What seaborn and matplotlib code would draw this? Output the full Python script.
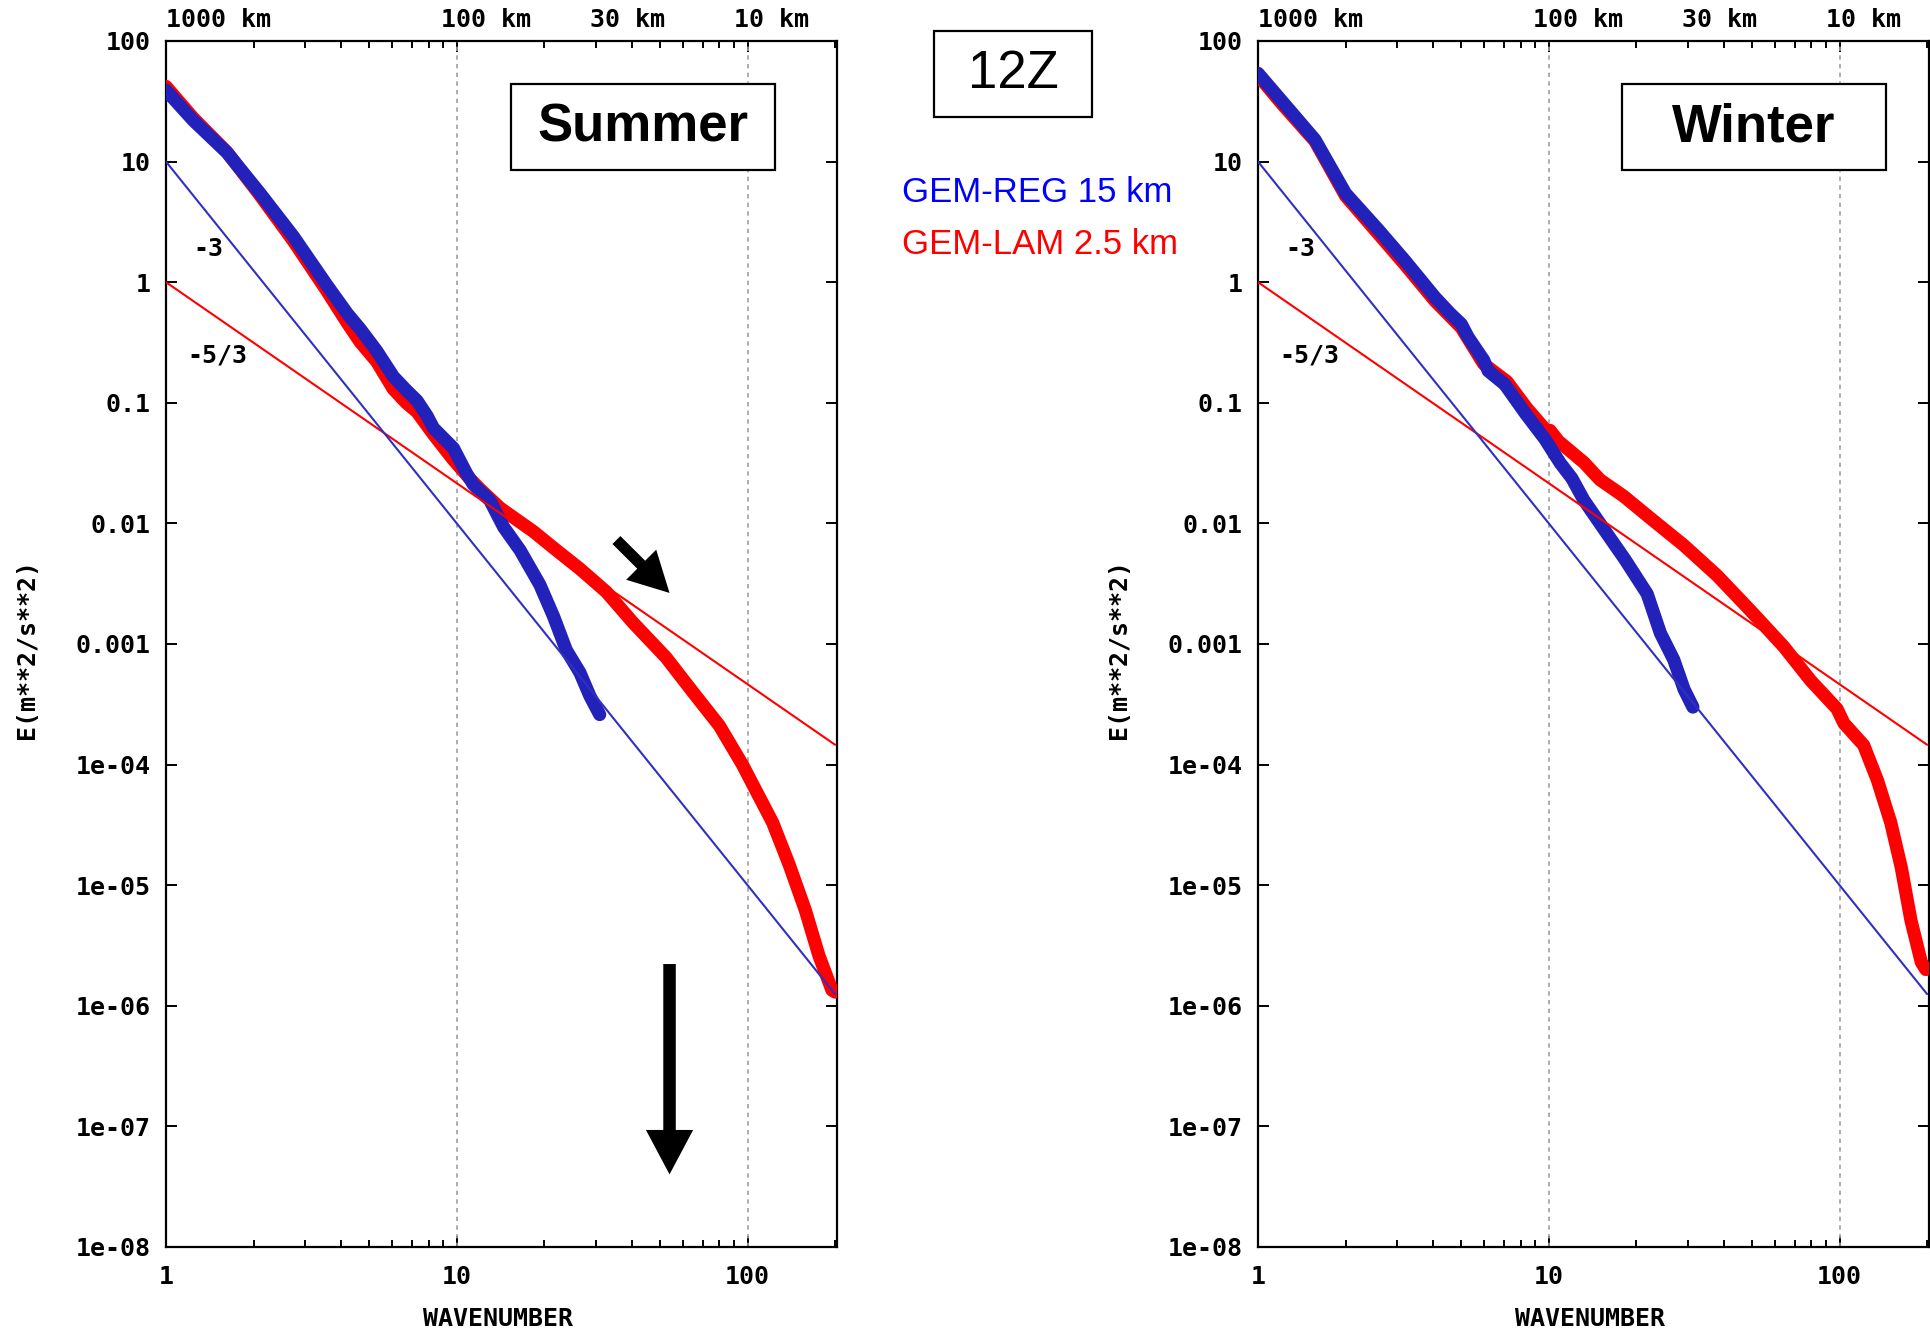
import matplotlib
matplotlib.use("Agg")
import numpy as np
import pandas as pd
import matplotlib.pyplot as plt
import matplotlib.transforms as mtransforms
from matplotlib.patches import Rectangle
from matplotlib.ticker import FixedLocator, FixedFormatter, NullFormatter
import seaborn as sns

# ---------------------------------------------------------------- data
# Kinetic energy spectra E(k) [m**2/s**2] versus wavenumber k
summer_reg_k = [1, 1.24, 1.62, 2.1, 2.74, 3.57, 4.2, 4.65, 5.3, 6.05, 6.73, 7.3,
                7.9, 8.3, 9.74, 10.8, 11.4, 13.0, 14.5, 16.5, 19.3, 21.5, 23.8,
                26.5, 28.7, 31.0]
summer_reg_e = [39, 22, 11.9, 5.5, 2.4, 0.95, 0.55, 0.41, 0.27, 0.165, 0.126, 0.104,
                0.078, 0.062, 0.042, 0.026, 0.021, 0.0155, 0.0093, 0.006, 0.0031,
                0.0017, 0.00089, 0.00058, 0.00037, 0.00026]

summer_lam_k = [1, 1.24, 1.62, 2.1, 2.74, 3.57, 4.2, 4.65, 5.3, 6.05, 6.7, 7.3, 8.3,
                9.7, 11.0, 12.0, 14.1, 18.3, 22, 26.5, 32.7, 40.4, 52.5, 64.8, 80,
                96, 104, 122, 139, 158, 176, 195, 200]
summer_lam_e = [42, 23, 12, 5.3, 2.2, 0.85, 0.46, 0.32, 0.22, 0.13, 0.100, 0.084,
                0.055, 0.034, 0.024, 0.0193, 0.0134, 0.0086, 0.006, 0.0042, 0.0027,
                0.0015, 0.00077, 0.0004, 0.00021, 1.0e-4, 6.9e-5, 3.3e-5, 1.48e-5,
                6.2e-6, 2.6e-6, 1.35e-6, 1.3e-6]

winter_reg_k = [1, 1.21, 1.57, 2.0, 2.6, 3.2, 4.06, 4.58, 5.0, 5.28, 5.97, 6.19,
                7.06, 8.3, 9.7, 10.5, 10.96, 12.0, 13.2, 15.6, 18.3, 21.8, 24.2,
                26.9, 29.2, 31.3]
winter_reg_e = [54, 31.6, 15.2, 5.45, 2.7, 1.51, 0.75, 0.55, 0.45, 0.35, 0.226,
                0.184, 0.142, 0.082, 0.05, 0.037, 0.0315, 0.0237, 0.0156, 0.0087,
                0.005, 0.0026, 0.00123, 0.00074, 0.00042, 0.0003]

winter_lam_k = [1, 1.21, 1.57, 2.0, 2.6, 3.2, 4.06, 5.0, 5.97, 7.18, 8.41, 9.85,
                10.1, 10.8, 13.2, 15.0, 18.1, 22.4, 29.1, 37.9, 49.3, 64.3, 79.4,
                98, 103.5, 121, 135, 150, 163, 176, 191, 198]
winter_lam_e = [52, 30, 14.8, 5.2, 2.5, 1.4, 0.70, 0.42, 0.21, 0.15, 0.09, 0.058,
                0.059, 0.048, 0.032, 0.023, 0.0168, 0.011, 0.0066, 0.0037, 0.0019,
                0.00095, 0.0005, 0.00029, 0.00022, 0.000145, 7.4e-5, 3.3e-5, 1.4e-5,
                5.1e-6, 2.3e-6, 2.0e-6]

# reference power laws k^-3 and k^-5/3 (end points)
slope_k = [1, 200]
slope_m3_e = [10, 1.25e-6]
slope_m53_e = [1, 1.46e-4]

models = ["GEM-LAM 2.5 km", "GEM-REG 15 km"]
seasons = ["Summer", "Winter"]

x_ticks = [1, 10, 100]
x_tick_labels = ["1", "10", "100"]
y_ticks = [1e-8, 1e-7, 1e-6, 1e-5, 1e-4, 1e-3, 1e-2, 1e-1, 1, 10, 100]
y_tick_labels = ["1e-08", "1e-07", "1e-06", "1e-05", "1e-04", "0.001", "0.01",
                 "0.1", "1", "10", "100"]
scale_labels = ["1000 km", "100 km", "30 km", "10 km"]
scale_label_k = [1.0, 8.8, 28.7, 89.8]

# ---------------------------------------------------------------- style
sns.set_style("ticks")
plt.rcParams["font.family"] = ["DejaVu Sans Mono", "DejaVu Sans"]
plt.rcParams["font.weight"] = "bold"
for key in ("text.color", "axes.labelcolor", "xtick.color", "ytick.color",
            "axes.edgecolor"):
    plt.rcParams[key] = "black"

BLUE = "#2222bb"
RED = "#ff0000"
palette = {"GEM-LAM 2.5 km": RED, "GEM-REG 15 km": BLUE}
FS = 18

W, H = 1930, 1333
fig = plt.figure(figsize=(W / 100, H / 100), dpi=100)
fig.patch.set_facecolor("white")


def fx(x):
    return x / W


def fy(y):
    return 1 - y / H


def frame(season, reg_k, reg_e, lam_k, lam_e):
    return pd.concat([
        pd.DataFrame({"k": lam_k, "E": lam_e, "model": models[0], "season": season}),
        pd.DataFrame({"k": reg_k, "E": reg_e, "model": models[1], "season": season}),
    ], ignore_index=True)


data = pd.concat([
    frame("Summer", summer_reg_k, summer_reg_e, summer_lam_k, summer_lam_e),
    frame("Winter", winter_reg_k, winter_reg_e, winter_lam_k, winter_lam_e),
], ignore_index=True)

ax_w, ax_h = 671 / W, 1206 / H
ax_bottom = fy(1247)
lefts = [166 / W, 1258 / W]

axes = []
for season, left in zip(seasons, lefts):
    ax = fig.add_axes([left, ax_bottom, ax_w, ax_h])
    axes.append(ax)
    ax.set_xscale("log")
    ax.set_yscale("log")

    # reference slopes
    ax.plot(slope_k, slope_m53_e, color=RED, lw=1.5, zorder=4)
    ax.plot(slope_k, slope_m3_e, color="#3030c0", lw=1.5, zorder=4)

    sns.lineplot(data=data[data["season"] == season], x="k", y="E", hue="model",
                 hue_order=models, palette=palette, estimator=None, sort=False,
                 legend=False, lw=9.5, ax=ax, zorder=3,
                 solid_capstyle="round", solid_joinstyle="round")

    ax.set_xlim(1, 203)
    ax.set_ylim(1e-8, 100)

    ax.xaxis.set_major_locator(FixedLocator(x_ticks))
    ax.xaxis.set_major_formatter(FixedFormatter(x_tick_labels))
    minor = [m * d for d in (1, 10, 100) for m in range(2, 10) if m * d < 203]
    ax.xaxis.set_minor_locator(FixedLocator(minor))
    ax.xaxis.set_minor_formatter(NullFormatter())
    ax.yaxis.set_major_locator(FixedLocator(y_ticks))
    ax.yaxis.set_major_formatter(FixedFormatter(y_tick_labels))
    ax.yaxis.set_minor_locator(FixedLocator([]))

    ax.tick_params(which="both", direction="in", top=True, right=True,
                   colors="black", width=1.4)
    ax.tick_params(which="major", length=8)
    ax.tick_params(which="minor", length=5)
    ax.tick_params(axis="y", which="major", labelsize=FS, pad=11)
    ax.tick_params(axis="x", which="major", labelsize=FS, pad=13)
    for lab in ax.get_xticklabels() + ax.get_yticklabels():
        lab.set_fontweight("bold")

    for sp in ax.spines.values():
        sp.set_visible(True)
        sp.set_linewidth(1.6)
        sp.set_color("black")

    for gx in (10, 100):
        ax.axvline(gx, color="#a0a0a0", lw=1.2, ls=(0, (2.6, 2.6)), zorder=1)

    ax.set_xlabel("WAVENUMBER", fontsize=FS, fontweight="bold")
    ax.xaxis.set_label_coords(0.4955, -0.05)
    ax.set_ylabel("E(m**2/s**2)", fontsize=FS, fontweight="bold")
    ax.yaxis.set_label_coords(-0.19, 0.496)

    # length scale labels above the frame
    trans = mtransforms.blended_transform_factory(ax.transData, ax.transAxes)
    for lab, kx in zip(scale_labels, scale_label_k):
        ax.text(kx, 1.0174, lab, transform=trans, ha="left", va="center",
                fontsize=FS, fontweight="bold")

    # slope annotations
    ax.text(1.395, 1.87, "-3", ha="center", va="center", fontsize=FS,
            fontweight="bold", zorder=6)
    ax.text(1.50, 0.249, "-5/3", ha="center", va="center", fontsize=FS,
            fontweight="bold", zorder=6)

# season title boxes
for season, (x0, x1) in zip(seasons, [(511, 775), (1622, 1886)]):
    fig.add_artist(Rectangle((fx(x0), fy(170)), fx(x1 - x0), (170 - 84) / H,
                             transform=fig.transFigure, fill=True, fc="white",
                             ec="black", lw=1.6, zorder=10))
    fig.text(fx((x0 + x1) / 2), fy(127), season, ha="center", va="center",
             fontsize=38, fontweight="bold", family="Liberation Sans",
             color="black", zorder=11)

# time box
fig.add_artist(Rectangle((fx(934), fy(117)), fx(1092 - 934), (117 - 31) / H,
                         transform=fig.transFigure, fill=False, ec="black",
                         lw=1.6))
fig.text(fx(1013), fy(74), "12Z", ha="center", va="center", fontsize=38,
         fontweight="normal", family="Liberation Sans", color="black")

# model labels
fig.text(fx(902), fy(193), models[1], ha="left", va="center", fontsize=25,
         fontweight="normal", family="Liberation Sans", color="#0000ff")
fig.text(fx(902), fy(245), models[0], ha="left", va="center", fontsize=25,
         fontweight="normal", family="Liberation Sans", color="#ff0000")

# arrows on the summer panel
ax = axes[0]
ax.annotate("", xy=(53.9, 0.00265), xytext=(35.4, 0.00728),
            arrowprops=dict(arrowstyle="simple,head_length=1.6,head_width=1.7,tail_width=0.45",
                            fc="black", ec="black", lw=0, mutation_scale=18,
                            shrinkA=0, shrinkB=0), zorder=7)
ax.annotate("", xy=(53.9, 4.0e-8), xytext=(53.9, 2.22e-6),
            arrowprops=dict(arrowstyle="simple,head_length=1.6,head_width=1.7,tail_width=0.45",
                            fc="black", ec="black", lw=0, mutation_scale=20,
                            shrinkA=0, shrinkB=0), zorder=7)

fig.savefig("out.png", dpi=100, facecolor="white")
